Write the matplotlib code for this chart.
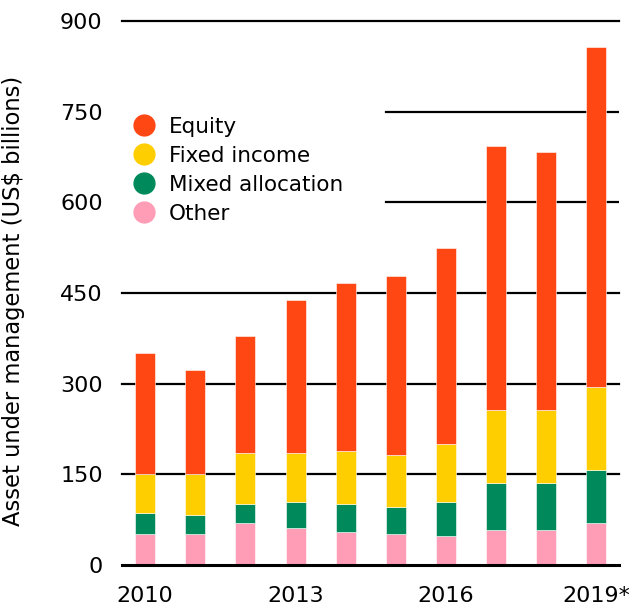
import matplotlib.pyplot as plt
import numpy as np
from matplotlib.lines import Line2D

years = ['2010', '2011', '2012', '2013', '2014', '2015', '2016', '2017', '2018', '2019*']
other = [51, 51, 69, 62, 55, 51, 48, 58, 58, 69]
mixed = [35, 32, 32, 42, 46, 45, 56, 78, 78, 88]
fixed = [64, 67, 84, 81, 88, 86, 96, 120, 120, 138]
equity = [201, 173, 194, 253, 278, 296, 324, 438, 427, 562]

names = ['Equity', 'Fixed income', 'Mixed allocation', 'Other']
colors = ['#ff4714', '#ffce00', '#008a5c', '#ff9cb6']

fig = plt.figure(figsize=(6.43, 6.09), dpi=100)
ax = fig.add_axes([0.19, 0.0722, 0.773, 0.8933])

x = np.arange(len(years))
bottom = np.zeros(len(years))
for vals, c in zip([other, mixed, fixed, equity], colors[::-1]):
    ax.bar(x, vals, 0.4, bottom=bottom, color=c, edgecolor='white', linewidth=0.4, zorder=3)
    bottom += np.array(vals)

# gridlines (the ones behind the legend are shorter)
for v in [150, 300, 450, 900]:
    ax.axhline(v, color='black', lw=1.6, zorder=1, clip_on=False)
for v in [600, 750]:
    ax.axhline(v, xmin=0.531, color='black', lw=1.6, zorder=1)
ax.axhline(0, color='black', lw=2.2, zorder=4, clip_on=False)

ax.set_xlim(-0.46, 9.46)
ax.set_ylim(0, 900)
ax.set_yticks(range(0, 901, 150))
ax.set_xticks([0, 3, 6, 9])
ax.set_xticklabels([years[i] for i in [0, 3, 6, 9]])
ax.tick_params(length=0, labelsize=16, colors='black')
ax.tick_params(axis='y', pad=14)
ax.tick_params(axis='x', pad=15)
for s in ax.spines.values():
    s.set_visible(False)

ax.set_ylabel('Asset under management (US$ billions)', fontsize=16.3)
ax.yaxis.set_label_coords(-0.195, 0.485)

handles = [Line2D([], [], marker='o', ls='none', markersize=15, color=c) for c in colors]
ax.legend(handles, names, loc='upper left', bbox_to_anchor=(-0.016, 0.84), frameon=False,
          fontsize=15.5, handletextpad=0.15, labelspacing=0.42, borderaxespad=0)

plt.savefig('out.png', dpi=100)
